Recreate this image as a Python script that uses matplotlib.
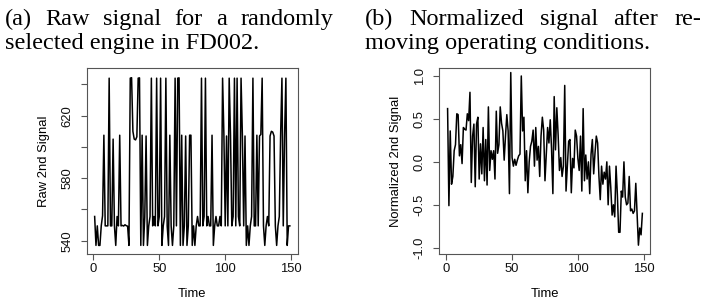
import matplotlib.pyplot as plt

# Raw sensor 2 readings (engine from FD002), one per cycle
raw_signal = [
    555.5, 537, 549.5, 537, 537, 549.5, 556, 607.5, 549.5, 549.5,
    549.5, 644, 549.5, 549.5, 605, 549.5, 537, 555.5, 549.5, 607.5,
    549.5, 549.8, 549.4, 550.2, 549.6, 549.3, 537, 644, 644.3, 610,
    605, 604.5, 606.5, 644, 644.2, 537, 607.5, 537, 555, 607,
    537, 549.5, 555.5, 644, 549.5, 555.5, 549.5, 644, 549.5, 555.5,
    644, 537, 549.5, 555.5, 644, 549.5, 537, 607.5, 549.5, 537,
    549.5, 644, 549.5, 644, 644.2, 537, 607.5, 537, 549.5, 607,
    537, 549.5, 607.5, 607.5, 537, 549.5, 537, 549.5, 555.5, 549.5,
    549.5, 644, 549.5, 555.5, 644, 549.5, 555.5, 549.5, 549.5, 607.5,
    537, 549.5, 555.5, 549.5, 549.5, 555.5, 549.5, 644, 607.5, 549.5,
    607, 549.5, 644, 607.5, 549.5, 555.5, 644, 549.5, 644, 555.5,
    549.5, 644, 607.5, 549.5, 607, 537, 549.5, 537, 549.5, 555.5,
    644, 549.5, 549.5, 607.5, 549.5, 607, 608, 644, 549.5, 537,
    549.5, 555.5, 549.5, 607, 610, 609.5, 607, 549.5, 537, 549.5,
    555.5, 607.5, 644, 549.5, 607, 644, 537, 549.5, 549.5,
]

# Same sensor after removing operating conditions
norm_signal = [
    0.62, -0.51, 0.36, -0.26, -0.17, 0.13, 0.20, 0.56, 0.55, 0.07,
    0.20, -0.02, 0.40, 0.38, 0.37, 0.56, 0.48, 0.81, -0.24, 0.30,
    0.44, -0.29, 0.44, 0.52, -0.20, 0.21, -0.14, 0.40, -0.22, 0.26,
    -0.27, 0.64, -0.10, 0.13, 0.03, 0.13, -0.20, 0.59, 0.10, 0.20,
    0.64, 0.45, 0.36, 0.02, 0.30, 0.55, 0.36, -0.37, 1.04,
    0.05, -0.05, 0.03, -0.04, 0.02, 0.07, 0.09, 1.00, 0.36, 0.52,
    -0.22, 0.13, -0.36, 0.00, 0.18, 0.24, 0.37, -0.05, 0.40, 0.02,
    0.18, -0.17, 0.30, 0.52, 0.37, -0.22, 0.10, 0.40, 0.22, 0.49,
    0.15, -0.37, 0.76, 0.14, 0.63, 0.31, -0.10, 0.05, -0.17, -0.05,
    0.89, -0.34, -0.05, 0.24, 0.26, -0.36, 0.04, -0.07, 0.37, 0.30,
    0.04,
    -0.10, 0.30, -0.34, 0.62, -0.22, 0.08, -0.20, 0.00, -0.37, 0.09,
    0.26, -0.14, 0.10, 0.30, 0.22, -0.17, -0.44, -0.05, -0.26, -0.12,
    -0.20, 0.00, -0.50, -0.05, -0.30, -0.62, -0.50, -0.64, -0.05, -0.38,
    -0.82, -0.82, -0.34, -0.41, 0.00, -0.41, -0.50, -0.48, -0.17, -0.57,
    -0.55, -0.60, -0.57, -0.25, -0.60, -0.97, -0.77, -0.85, -0.60,
]

time_raw = list(range(1, len(raw_signal) + 1))
time_norm = list(range(1, len(norm_signal) + 1))

x_ticks = [0, 50, 100, 150]
raw_yticks = [540, 560, 580, 600, 620, 640]
raw_ylabels = ['540', '', '580', '', '620', '']
norm_yticks = [-1.0, -0.5, 0.0, 0.5, 1.0]
norm_ylabels = ['-1.0', '-0.5', '0.0', '0.5', '1.0']

W, H = 713, 301
fig = plt.figure(figsize=(W / 100, H / 100), dpi=100)

sans = 'Liberation Sans'
serif = 'Liberation Serif'
cap_size = 17.5


def r_style(ax, yticks, ylabels, ylabel):
    for s in ax.spines.values():
        s.set_color('#555555')
        s.set_linewidth(0.8)
    ax.set_xticks(x_ticks)
    ax.set_xticklabels([str(t) for t in x_ticks])
    ax.set_yticks(yticks)
    ax.set_yticklabels(ylabels, rotation=90, va='center')
    ax.tick_params(length=4.3, width=0.8, color='#555555', labelsize=9.4,
                   labelcolor='#111111')
    ax.tick_params(axis='x', pad=2.5)
    ax.tick_params(axis='y', pad=5.5)
    for lab in ax.get_xticklabels() + ax.get_yticklabels():
        lab.set_family(sans)
    ax.text(-0.205, 0.5, ylabel, rotation=90, ha='center', va='center',
            transform=ax.transAxes, fontsize=9.4, family=sans)
    ax.text(0.5, -0.215, 'Time', ha='center', va='center',
            transform=ax.transAxes, fontsize=9.4, family=sans)


ax1 = fig.add_axes([87 / W, 1 - 254 / H, 210.5 / W, 186 / H])
ax1.plot(time_raw, raw_signal, color='black', linewidth=1.1)
ax1.set_xlim(-4.8, 154.8)
ax1.set_ylim(531.5, 650.5)
r_style(ax1, raw_yticks, raw_ylabels, 'Raw 2nd Signal')

ax2 = fig.add_axes([439.3 / W, 1 - 254 / H, 210.7 / W, 186 / H])
ax2.plot(time_norm, norm_signal, color='black', linewidth=1.1)
ax2.set_xlim(-5.3, 154.8)
ax2.set_ylim(-1.073, 1.093)
r_style(ax2, norm_yticks, norm_ylabels, 'Normalized 2nd Signal')


def justify(words, x0, x1, y):
    # spread the words of a caption line across [x0, x1] (pixels)
    r = fig.canvas.get_renderer()
    texts = [fig.text(0, 1 - y / H, w, family=serif, fontsize=cap_size,
                      va='baseline') for w in words]
    widths = [t.get_window_extent(r).width for t in texts]
    gap = (x1 - x0 - sum(widths)) / (len(words) - 1)
    x = x0
    for t, w in zip(texts, widths):
        t.set_x(x / W)
        x += w + gap


# first caption lines are justified, last lines are set naturally
justify('(a) Raw signal for a randomly'.split(), 5, 333, 25)
fig.text(5 / W, 1 - 49 / H, 'selected engine in FD002.', family=serif,
         fontsize=cap_size, va='baseline')
justify('(b) Normalized signal after re-'.split(), 365, 701, 25)
fig.text(365 / W, 1 - 49 / H, 'moving operating conditions.', family=serif,
         fontsize=cap_size, va='baseline')

fig.savefig('out.png', dpi=100)
